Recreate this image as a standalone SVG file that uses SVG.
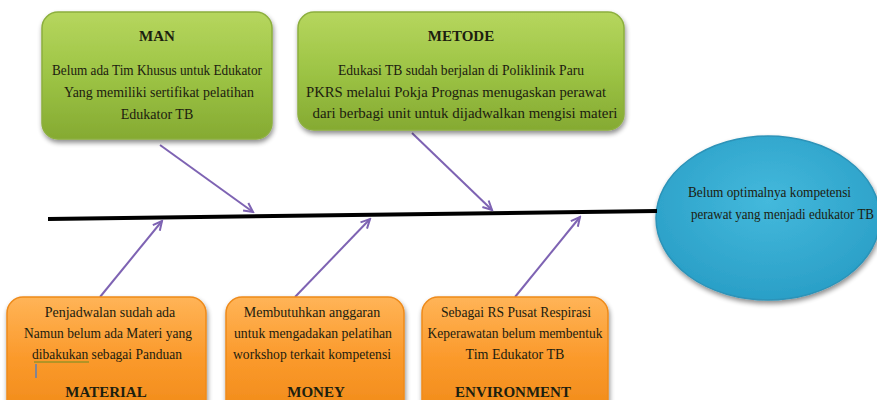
<svg xmlns="http://www.w3.org/2000/svg" width="877" height="400" viewBox="0 0 877 400">
<defs>
<linearGradient id="gGreen" x1="0" y1="0" x2="0" y2="1">
<stop offset="0" stop-color="#b6d65e"/>
<stop offset="0.5" stop-color="#9dc445"/>
<stop offset="1" stop-color="#85aa32"/>
</linearGradient>
<linearGradient id="gOrange" x1="0" y1="0" x2="0" y2="1">
<stop offset="0" stop-color="#ffb457"/>
<stop offset="0.5" stop-color="#fb9a2c"/>
<stop offset="1" stop-color="#f08a18"/>
</linearGradient>
<radialGradient id="gBlue" cx="0.5" cy="0.4" r="0.6">
<stop offset="0" stop-color="#44b9dc"/>
<stop offset="1" stop-color="#2a9fc7"/>
</radialGradient>
<filter id="sh" x="-10%" y="-10%" width="120%" height="130%">
<feGaussianBlur in="SourceAlpha" stdDeviation="2.5"/>
<feOffset dx="1" dy="3" result="b"/>
<feComponentTransfer><feFuncA type="linear" slope="0.45"/></feComponentTransfer>
<feMerge><feMergeNode/><feMergeNode in="SourceGraphic"/></feMerge>
</filter>
<marker id="ah" viewBox="0 0 12 12" refX="10" refY="6" markerWidth="12" markerHeight="12" markerUnits="userSpaceOnUse" orient="auto">
<path d="M1,1.5 L10,6 L1,10.5" fill="none" stroke="#7e63b3" stroke-width="2"/>
</marker>
</defs>
<style>
.green{fill:url(#gGreen);stroke:#8caf3e;stroke-width:1.5;filter:url(#sh)}
.orange{fill:url(#gOrange);stroke:#ee8a1a;stroke-width:1.5;filter:url(#sh)}
.t{font-family:"Liberation Serif","Times New Roman",serif;font-size:14px;fill:#1c200f;text-anchor:middle}
.h{font-family:"Liberation Serif","Times New Roman",serif;font-size:15px;font-weight:bold;fill:#1c200f;text-anchor:middle}
.arr{stroke:#7e63b3;stroke-width:2;fill:none;marker-end:url(#ah)}
</style>
<rect width="877" height="400" fill="#ffffff"/>

<g id="effect">
<ellipse cx="768" cy="218" rx="112" ry="82" fill="url(#gBlue)" stroke="#2d93b8" stroke-width="1.5" filter="url(#sh)"/>
<text class="t" x="688" y="197" style="text-anchor:start" textLength="163" lengthAdjust="spacingAndGlyphs">Belum optimalnya kompetensi</text>
<text class="t" x="691" y="219" style="text-anchor:start" textLength="183" lengthAdjust="spacingAndGlyphs">perawat yang menjadi edukator TB</text>
</g>

<g id="connectors">
<line x1="48" y1="219" x2="657" y2="211" stroke="#000" stroke-width="4"/>
<line class="arr" x1="160" y1="145" x2="253" y2="212"/>
<line class="arr" x1="412" y1="133" x2="492" y2="210"/>
<line class="arr" x1="100" y1="297" x2="162" y2="221"/>
<line class="arr" x1="295" y1="297" x2="370" y2="219"/>
<line class="arr" x1="515" y1="297" x2="580" y2="217"/>
</g>

<g id="man">
<rect class="green" x="42" y="12" width="230" height="127" rx="16"/>
<text class="h" x="157" y="41">MAN</text>
<text class="t" x="157" y="75" textLength="210" lengthAdjust="spacingAndGlyphs">Belum ada Tim Khusus untuk Edukator</text>
<text class="t" x="159" y="97" textLength="190" lengthAdjust="spacingAndGlyphs">Yang memiliki sertifikat pelatihan</text>
<text class="t" x="157" y="119">Edukator TB</text>
</g>

<g id="metode">
<rect class="green" x="298" y="12" width="326" height="118" rx="16"/>
<text class="h" x="461" y="41">METODE</text>
<text class="t" x="461" y="75" textLength="246" lengthAdjust="spacingAndGlyphs">Edukasi TB sudah berjalan di Poliklinik Paru</text>
<text class="t" x="456" y="97" textLength="300" lengthAdjust="spacingAndGlyphs">PKRS melalui Pokja Prognas menugaskan perawat</text>
<text class="t" x="465" y="118" textLength="305" lengthAdjust="spacingAndGlyphs">dari berbagi unit untuk dijadwalkan mengisi materi</text>
</g>

<g id="material">
<rect class="orange" x="7" y="297" width="199" height="120" rx="16"/>
<text class="t" x="110" y="317">Penjadwalan sudah ada</text>
<text class="t" x="108" y="338" textLength="168" lengthAdjust="spacingAndGlyphs">Namun belum ada Materi yang</text>
<text class="t" x="107" y="359" textLength="150" lengthAdjust="spacingAndGlyphs">dibakukan sebagai Panduan</text>
<path d="M34,362 L89,362" stroke="#6b8e23" stroke-width="1" fill="none"/>
<line x1="36" y1="364" x2="36" y2="378" stroke="#5b7fb8" stroke-width="1.5"/>
<text class="h" x="106" y="397">MATERIAL</text>
</g>

<g id="money">
<rect class="orange" x="226" y="297" width="178" height="120" rx="16"/>
<text class="t" x="312" y="317">Membutuhkan anggaran</text>
<text class="t" x="313" y="338" textLength="158" lengthAdjust="spacingAndGlyphs">untuk mengadakan pelatihan</text>
<text class="t" x="312" y="359" textLength="158" lengthAdjust="spacingAndGlyphs">workshop terkait kompetensi</text>
<text class="h" x="316" y="397">MONEY</text>
</g>

<g id="environment">
<rect class="orange" x="422" y="297" width="186" height="120" rx="16"/>
<text class="t" x="516" y="317" textLength="150" lengthAdjust="spacingAndGlyphs">Sebagai RS Pusat Respirasi</text>
<text class="t" x="515" y="338" textLength="175" lengthAdjust="spacingAndGlyphs">Keperawatan belum membentuk</text>
<text class="t" x="515" y="359">Tim Edukator TB</text>
<text class="h" x="513" y="397">ENVIRONMENT</text>
</g>
</svg>
